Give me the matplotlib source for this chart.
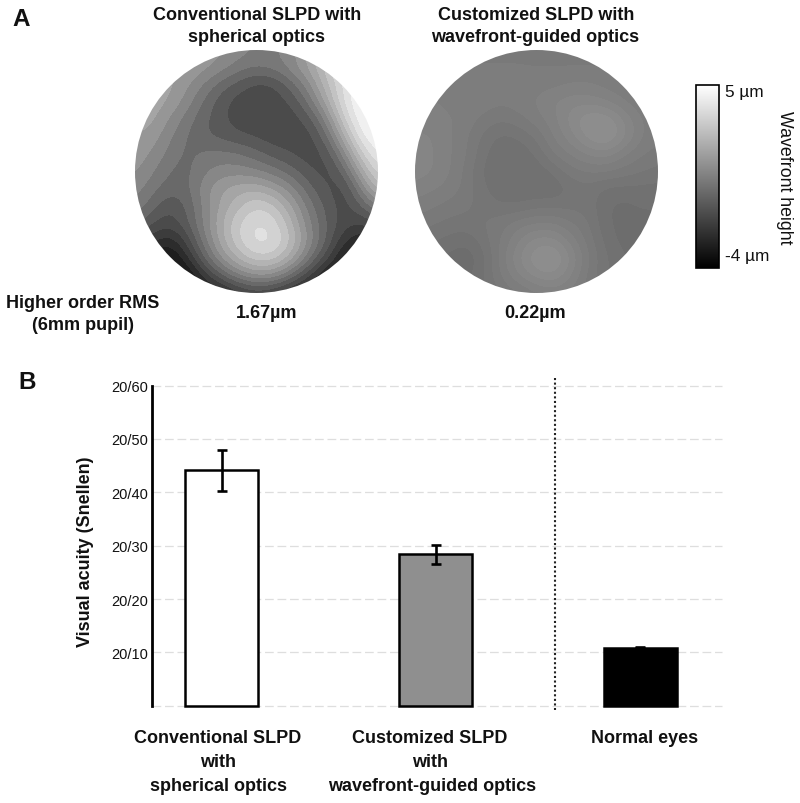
import numpy as np
import matplotlib
matplotlib.use("Agg")
import matplotlib.pyplot as plt
from matplotlib.patches import Circle
from matplotlib.lines import Line2D

plt.rcParams['font.family'] = ['Liberation Sans', 'DejaVu Sans']

W, H = 800, 804

# --- Data -----------------------------------------------------------------
# Wavefront maps: grey levels (0-255) read on a 15x15 grid across each pupil
map_conventional = np.array([
    [150,150,150,150,150,145,135,125,125,135,160,190,220,240,245],
    [160,160,160,155,148,135,120,115,120,135,160,190,225,245,250],
    [165,165,160,145,125,105, 92, 78, 82,105,135,180,215,245,250],
    [165,165,155,135,110, 90, 76, 76, 76, 85,115,160,215,245,250],
    [165,160,140,120,102, 88, 76, 76, 76, 76, 90,130,195,240,250],
    [155,150,130,112,100, 95, 88, 82, 76, 76, 76,105,165,225,245],
    [150,140,122,108,118,118,115,105, 92, 85, 76, 85,130,195,230],
    [145,130,112,108,125,135,135,130,120,105, 88, 76,100,160,210],
    [135,118,105,108,138,155,165,168,155,135,105, 85, 76,125,180],
    [125,105, 85,100,132,160,182,200,190,158,122, 95, 76, 95,130],
    [105, 85, 76, 95,132,170,200,216,208,176,132,100, 78, 72, 80],
    [ 80, 60, 45, 75,122,165,200,220,216,186,140,100, 60, 40, 50],
    [ 50, 30, 20, 50,102,145,176,196,194,166,120, 78, 35, 25, 30],
    [ 30, 20, 15, 20, 60, 98,128,145,140,110, 72, 35, 25, 20, 20],
    [ 20, 20, 15, 15, 30, 40, 60, 70, 62, 48, 30, 25, 20, 20, 20],
])
map_customized = np.array([
    [122,122,122,122,122,122,122,120,120,120,120,120,120,119,119],
    [124,124,124,124,124,124,124,124,124,124,124,124,122,119,119],
    [126,126,126,126,126,126,126,126,126,128,128,126,124,122,120],
    [128,128,126,126,126,124,126,128,132,134,134,132,128,124,122],
    [130,130,128,126,122,120,122,126,130,138,144,144,136,128,124],
    [132,132,128,124,118,114,116,120,128,134,142,146,138,128,124],
    [134,132,128,124,116,112,112,116,124,128,132,134,128,124,122],
    [134,132,128,122,114,112,112,112,116,122,124,124,122,120,118],
    [130,128,126,122,116,112,112,112,112,116,118,114,114,114,114],
    [126,124,122,120,118,116,116,118,118,118,118,112,110,112,112],
    [122,120,118,118,120,122,126,128,128,124,120,112,110,110,110],
    [118,116,114,112,118,124,132,138,138,130,122,114,110,110,110],
    [114,112,110,108,114,126,136,144,146,136,124,116,112,110,110],
    [112,110,110,110,116,124,132,138,140,132,122,116,112,110,110],
    [112,112,112,112,114,120,122,126,128,126,122,116,112,112,112],
])
height_min, height_max = -4, 5

# Visual acuity bars
categories = ["Conventional SLPD\nwith\nspherical optics",
              "Customized SLPD\nwith\nwavefront-guided optics",
              "Normal eyes"]
acuity = [44.2, 28.4, 10.8]
err_low = [40.2, 26.5, 10.8]
err_high = [47.9, 30.1, 11.1]
bar_colors = ["white", "#8f8f8f", "black"]
tick_values = [0, 10, 20, 30, 40, 50, 60]
tick_labels = ["", "20/10", "20/20", "20/30", "20/40", "20/50", "20/60"]

# --- Layout helpers -------------------------------------------------------
fig = plt.figure(figsize=(W / 100, H / 100), dpi=100, facecolor="white")


def axes_px(x0, y0, x1, y1):
    return fig.add_axes([x0 / W, 1 - y1 / H, (x1 - x0) / W, (y1 - y0) / H])


def label(x, y, s, size=13, bold=True, **kw):
    kw.setdefault("ha", "center")
    kw.setdefault("va", "center")
    fig.text(x / W, 1 - y / H, s, fontsize=size,
             fontweight="bold" if bold else "normal", color="#111111", **kw)


# --- Wavefront maps -------------------------------------------------------
def to_um(grey):
    return height_min + (height_max - height_min) * grey / 255.0


def draw_map(x0, y0, x1, y1, grey, n_bands):
    ax = axes_px(x0, y0, x1, y1)
    half = 1 / (grey.shape[0] - 1)
    im = ax.imshow(to_um(grey), cmap=plt.get_cmap("gray", n_bands),
                   vmin=height_min, vmax=height_max,
                   interpolation="bicubic", interpolation_stage="data",
                   extent=(-1 - half, 1 + half, 1 + half, -1 - half))
    ax.set_xlim(-1, 1)
    ax.set_ylim(1, -1)
    im.set_clip_path(Circle((0, 0), 1, transform=ax.transData))
    ax.axis("off")


draw_map(135, 51, 378, 294, map_conventional, 18)
draw_map(415, 51, 658, 294, map_customized, 64)

# --- Colour bar -----------------------------------------------------------
cax = axes_px(696, 86, 718.5, 269)
sm = plt.cm.ScalarMappable(cmap="gray",
                           norm=plt.Normalize(height_min, height_max))
cb = fig.colorbar(sm, cax=cax)
cb.set_ticks([])
cb.outline.set_linewidth(1.2)
cb.outline.set_edgecolor("black")

label(725, 92, "5 µm", size=12.4, bold=False, ha="left")
label(725, 257, "-4 µm", size=12.4, bold=False, ha="left")
label(784, 178, "Wavefront height", size=12.8, bold=False, rotation=270)

# --- Bars -----------------------------------------------------------------
bar_left, bar_right = 152.3, 722
ax = axes_px(bar_left, 386.5, bar_right, 706.8)
ax.set_xlim(bar_left, bar_right)
ax.set_ylim(0, 60)
ax.patch.set_alpha(0)

bar_centers = [221.5, 435.5, 640]
bar_width = 73
ax.set_axisbelow(True)
ax.yaxis.grid(True, color="#dedede", lw=0.9, ls=(0, (7, 3)))
ax.xaxis.grid(False)
for gl in ax.get_ygridlines():
    gl.set_clip_on(False)
for xc, v, c, lo, hi in zip(bar_centers, acuity, bar_colors, err_low, err_high):
    ax.bar(xc, v, width=bar_width, facecolor=c, edgecolor="black", lw=1.8,
           zorder=3, clip_on=False)
    ax.errorbar(xc, v, yerr=[[v - lo], [hi - v]], color="black", lw=1.9,
                capsize=3.3, capthick=1.9, zorder=4)

for side in ("top", "right", "bottom"):
    ax.spines[side].set_visible(False)
ax.spines["left"].set_linewidth(2)
ax.spines["left"].set_color("black")
ax.set_xticks([])
ax.set_yticks(tick_values)
ax.set_yticklabels(tick_labels, fontsize=10.5, color="#111111")
ax.tick_params(axis="y", length=0, pad=3)

fig.add_artist(Line2D([555 / W, 555 / W], [1 - 379 / H, 1 - 711 / H],
                      color="#222222", lw=1.5, ls=(0, (1, 1.2))))

# --- Text -----------------------------------------------------------------
label(21.5, 20, "A", size=17.5)
label(27, 383, "B", size=17.5)
label(257, 15, "Conventional SLPD with")
label(256, 37, "spherical optics")
label(536, 15, "Customized SLPD with")
label(535, 37, "wavefront-guided optics")
label(83, 303, "Higher order RMS")
label(83, 325, "(6mm pupil)")
label(267, 314, "1.67µm")
label(535, 314, "0.22µm")
label(86, 552, "Visual acuity (Snellen)", rotation=90)

x_label_centers = [[218, 218, 218], [430, 430, 432], [645]]
x_label_rows = [739, 763, 787]
for name, centers in zip(categories, x_label_centers):
    for line, xc, yc in zip(name.split("\n"), centers, x_label_rows):
        label(xc, yc, line)

fig.savefig("out.png", dpi=100, facecolor="white")
